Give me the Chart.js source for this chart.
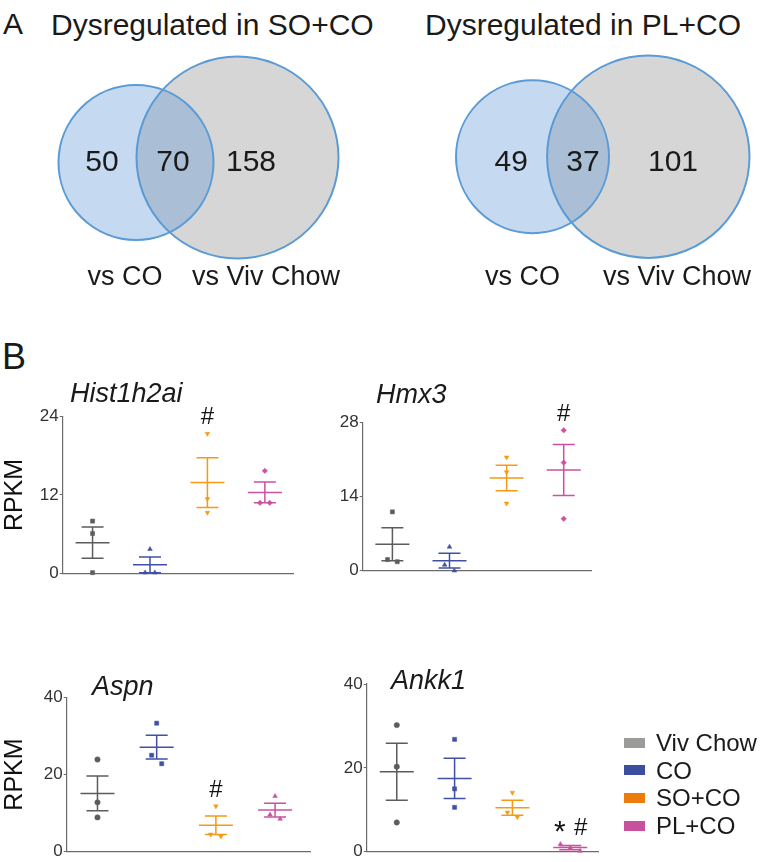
<!DOCTYPE html>
<html>
<head>
<meta charset="utf-8">
<script src="https://cdn.jsdelivr.net/npm/chart.js@4.4.1/dist/chart.umd.min.js"></script>
<style>
  body { margin:0; width:764px; height:862px; overflow:hidden; background:#fff;
         position:relative; font-family:"Liberation Sans", Arial, sans-serif; color:#1a1a1a; }
  .lbl { position:absolute; white-space:nowrap; line-height:1; }
  .gene { font-style:italic; font-size:27px; }
  canvas { position:absolute; }
  .key { position:absolute; width:21px; height:10px; }
</style>
</head>
<body>
<div class="lbl" style="left:3px;top:9px;font-size:30px">A</div>
<div class="lbl" style="left:51px;top:10px;font-size:30px">Dysregulated in SO+CO</div>
<div class="lbl" style="left:425px;top:10px;font-size:30px">Dysregulated in PL+CO</div>
<div class="lbl" style="left:2px;top:339px;font-size:36px">B</div>

<script>
/* ----- data ----- */
const groups       = ['Viv Chow', 'CO', 'SO+CO', 'PL+CO'];
const markColors   = ['#5c5c5c', '#3f50a6', '#f59a12', '#cc50a2'];
const legendColors = ['#9b9b99', '#3d4d9f', '#ec7c0c', '#c7519d'];

// A: gene counts  [only vs CO, both, only vs Viv Chow]
const soCoCounts    = [50, 70, 158];
const plCoCounts    = [49, 37, 101];
const vennSetLabels = ['vs CO', 'vs Viv Chow'];

// B: RPKM, three animals per group, with mean and SEM
const hist1h2aiPts   = [[8.0, 6.1, 0.1], [3.7, 0.1, 0.1], [21.4, 11.4, 9.3], [15.7, 10.8, 10.8]];
const hist1h2aiMean  = [4.7, 1.3, 13.9, 12.4];
const hist1h2aiSem   = [2.4, 1.2, 3.8, 1.6];
const hist1h2aiTicks = [0, 12, 24];
const hist1h2aiSig   = ['', '', '#', ''];

const hmx3Pts   = [[11.1, 2.1, 1.7], [4.5, 1.1, 0.0], [21.4, 18.6, 12.7], [26.5, 20.4, 9.8]];
const hmx3Mean  = [5.0, 1.9, 17.5, 19.0];
const hmx3Sem   = [3.1, 1.4, 2.4, 4.8];
const hmx3Ticks = [0, 14, 28];
const hmx3Sig   = ['', '', '', '#'];

const aspnPts   = [[23.9, 12.8, 8.9], [33.3, 25.0, 22.8], [11.8, 4.5, 4.0], [14.4, 9.6, 8.5]];
const aspnMean  = [15.1, 27.1, 6.9, 10.8];
const aspnSem   = [4.5, 3.1, 2.4, 1.8];
const aspnTicks = [0, 20, 40];
const aspnSig   = ['', '', '#', ''];

const ankk1Pts   = [[30.2, 20.3, 7.0], [26.8, 15.0, 10.6], [14.1, 9.4, 8.3], [1.8, 0.9, 0.2]];
const ankk1Mean  = [19.1, 17.5, 10.5, 1.0];
const ankk1Sem   = [6.8, 4.8, 1.8, 0.5];
const ankk1Ticks = [0, 20, 40];
const ankk1Sig   = ['', '', '', '* #'];

/* ----- layout ----- */
const FONT = '"Liberation Sans", Arial, sans-serif';
const shapesSq  = [['rect', 0], ['triangle', 0], ['triangle', 180], ['rectRot', 0]];
const shapesDot = [['circle', 0], ['rect', 0], ['triangle', 180], ['triangle', 0]];

function addCanvas(id, l, t, w, h){
  const c = document.createElement('canvas');
  c.id = id; c.width = w; c.height = h;
  Object.assign(c.style, {left: l + 'px', top: t + 'px', width: w + 'px', height: h + 'px'});
  document.body.appendChild(c);
  return c;
}
function addText(txt, cls, l, t, size){
  const d = document.createElement('div');
  d.className = 'lbl ' + cls; d.textContent = txt;
  Object.assign(d.style, {left: l + 'px', top: t + 'px', fontSize: size + 'px'});
  document.body.appendChild(d);
}

/* ----- A: venn diagrams (bubbles on hidden px scales) ----- */
// bubbles reserve their radius as padding, so the canvas is grown by PAD on
// every side and the chart area lands back on the 382x320 cell
const PAD = 110;
function venn(id, left, counts, lay){
  const el = addCanvas(id, left - PAD, -PAD, 382 + 2 * PAD, 320 + 2 * PAD);
  const text = {
    id: 'vennText',
    afterDatasetsDraw(chart){
      const {ctx, scales:{x, y}} = chart;
      ctx.save();
      ctx.fillStyle = '#1a1a1a'; ctx.textAlign = 'center'; ctx.textBaseline = 'middle';
      ctx.font = '30px ' + FONT;
      counts.forEach((n, i) => ctx.fillText(n, x.getPixelForValue(lay.nums[i]), y.getPixelForValue(lay.numY)));
      ctx.font = '27px ' + FONT;
      vennSetLabels.forEach((s, i) => ctx.fillText(s, x.getPixelForValue(lay.labs[i]), y.getPixelForValue(lay.labY)));
      ctx.restore();
    }
  };
  new Chart(el, {
    type: 'bubble',
    data: {datasets: [
      {data: [{x: lay.small[0], y: lay.small[1], r: lay.small[2]}],
       backgroundColor: 'rgba(89,149,212,0.35)', borderColor: '#5b9bd5', borderWidth: 2, clip: false},
      {data: [{x: lay.big[0], y: lay.big[1], r: lay.big[2]}],
       backgroundColor: '#d6d6d6', borderColor: '#5b9bd5', borderWidth: 2, clip: false}
    ]},
    options: {
      responsive: false, animation: false, events: [],
      layout: {padding: PAD},
      scales: {x: {display: false, min: 0, max: 382},
               y: {display: false, min: 0, max: 320, reverse: true}},
      plugins: {legend: {display: false}, tooltip: {enabled: false}}
    },
    plugins: [text]
  });
}
venn('vennSO', 0, soCoCounts,
     {small: [136, 162.5, 77.5], big: [237.5, 157.5, 101], nums: [102, 173, 251], numY: 163, labs: [125, 266], labY: 278});
venn('vennPL', 382, plCoCounts,
     {small: [150.5, 156.7, 76.5], big: [266.3, 156.7, 101.2], nums: [129.3, 201, 291], numY: 163, labs: [140.5, 295], labY: 278});

/* ----- B: dot plots with mean ± SEM ----- */
// nudge points sideways when they'd sit on top of each other
function spread(vals, range){
  const xs = vals.map(() => 0);
  const order = vals.map((v, i) => i).sort((a, b) => vals[b] - vals[a]);
  let cl = [order[0]];
  const flush = () => cl.forEach((k, j) => xs[k] = cl.length > 1 ? (j - (cl.length - 1) / 2) * 0.17 : 0);
  for (let i = 1; i < order.length; i++){
    if (vals[cl[cl.length - 1]] - vals[order[i]] < range * 0.06) cl.push(order[i]);
    else { flush(); cl = [order[i]]; }
  }
  flush();
  return xs;
}

function dotPlot(p){
  const [cl, ct, cw, chh] = p.box;
  const [al, at, ar, ab] = p.area;
  const el = addCanvas(p.id, cl, ct, cw, chh);
  const top = p.ticks[p.ticks.length - 1];

  const datasets = p.pts.map((vals, g) => {
    const jit = spread(vals, top);
    return {
      type: 'scatter',
      data: vals.map((v, k) => ({x: g + 1 + jit[k], y: v})),
      pointStyle: p.shapes[g][0], rotation: p.shapes[g][1],
      pointRadius: p.shapes[g][0] === 'rect' ? 2.9 : 2.7,
      backgroundColor: markColors[g], borderColor: markColors[g], borderWidth: 0.5,
      clip: false
    };
  });

  const bars = {
    id: 'meanSem',
    beforeDatasetsDraw(chart){
      const {ctx, scales:{x, y}} = chart;
      ctx.save(); ctx.lineWidth = 1.5;
      p.mean.forEach((m, g) => {
        const cx = x.getPixelForValue(g + 1);
        const yt = y.getPixelForValue(m + p.sem[g]), yb = y.getPixelForValue(m - p.sem[g]);
        const ym = y.getPixelForValue(m);
        ctx.strokeStyle = markColors[g];
        ctx.beginPath();
        ctx.moveTo(cx - 17, ym); ctx.lineTo(cx + 17, ym);
        ctx.moveTo(cx, yt); ctx.lineTo(cx, yb);
        ctx.moveTo(cx - 11, yt); ctx.lineTo(cx + 11, yt);
        ctx.moveTo(cx - 11, yb); ctx.lineTo(cx + 11, yb);
        ctx.stroke();
      });
      ctx.restore();
    },
    afterDatasetsDraw(chart){
      const {ctx, scales:{x, y}} = chart;
      ctx.save();
      ctx.fillStyle = '#111'; ctx.textAlign = 'center'; ctx.textBaseline = 'middle';
      p.sig.forEach((s, g) => {
        if (!s) return;
        const hi = Math.max(...p.pts[g], p.mean[g] + p.sem[g]);
        const marks = s.split(' ');
        const cx = x.getPixelForValue(g + 1), cy = y.getPixelForValue(hi) - 16;
        marks.forEach((m, i) => {
          const mx = cx + (i - (marks.length - 1) / 2) * 21;
          // the asterisk glyph sits high and small, so draw it bigger and lower
          ctx.font = (m === '*' ? '30px ' : '24px ') + FONT;
          ctx.fillText(m, mx, m === '*' ? cy + 4 : cy);
        });
      });
      ctx.restore();
    }
  };

  new Chart(el, {
    type: 'scatter',
    data: {datasets},
    options: {
      responsive: false, animation: false, events: [],
      layout: {padding: {left: 0, top: at - ct, right: cl + cw - ar, bottom: ct + chh - ab}},
      scales: {
        x: {type: 'linear', min: 0.48, max: p.xmax,
            ticks: {display: false}, grid: {display: false},
            border: {color: '#6b6b6b', width: 1.2},
            afterFit: s => { s.height = 0; }},
        y: {min: 0, max: top,
            afterBuildTicks: s => { s.ticks = p.ticks.map(v => ({value: v})); },
            ticks: {color: '#333', padding: 1, font: {family: FONT, size: 17}},
            grid: {drawOnChartArea: false, tickLength: 3, color: '#6b6b6b'},
            border: {color: '#6b6b6b', width: 1.2},
            title: {display: p.yTitle, text: 'RPKM', color: '#111', padding: 0,
                    font: {family: FONT, size: 25}},
            afterFit: s => { s.width = al - cl; }}
      },
      plugins: {legend: {display: false}, tooltip: {enabled: false}}
    },
    plugins: [bars]
  });
  addText(p.name, 'gene', p.title[0], p.title[1], 27);
}

dotPlot({id: 'hist', name: 'Hist1h2ai', pts: hist1h2aiPts, mean: hist1h2aiMean, sem: hist1h2aiSem,
         ticks: hist1h2aiTicks, sig: hist1h2aiSig, shapes: shapesSq, yTitle: true,
         box: [0, 400, 310, 200], area: [62.7, 416.7, 293, 573.3], xmax: 4.49, title: [70, 380]});
dotPlot({id: 'hmx3', name: 'Hmx3', pts: hmx3Pts, mean: hmx3Mean, sem: hmx3Sem,
         ticks: hmx3Ticks, sig: hmx3Sig, shapes: shapesSq, yTitle: false,
         box: [300, 400, 305, 200], area: [362.7, 422.3, 591.7, 570.7], xmax: 4.49, title: [376, 381]});
dotPlot({id: 'aspn', name: 'Aspn', pts: aspnPts, mean: aspnMean, sem: aspnSem,
         ticks: aspnTicks, sig: aspnSig, shapes: shapesDot, yTitle: true,
         box: [0, 660, 320, 203], area: [66.7, 697.3, 310, 852.3], xmax: 4.59, title: [92, 673]});
dotPlot({id: 'ankk1', name: 'Ankk1', pts: ankk1Pts, mean: ankk1Mean, sem: ankk1Sem,
         ticks: ankk1Ticks, sig: ankk1Sig, shapes: shapesDot, yTitle: false,
         box: [300, 660, 310, 203], area: [366.7, 684, 598, 852], xmax: 4.48, title: [391, 667]});

/* ----- legend ----- */
groups.forEach((g, i) => {
  const cy = 742.7 + i * 27.6;
  const k = document.createElement('div');
  k.className = 'key';
  Object.assign(k.style, {left: '624px', top: (cy - 5) + 'px', background: legendColors[i]});
  document.body.appendChild(k);
  addText(g, '', 656, cy - 11.6, 24);
});
</script>
</body>
</html>
